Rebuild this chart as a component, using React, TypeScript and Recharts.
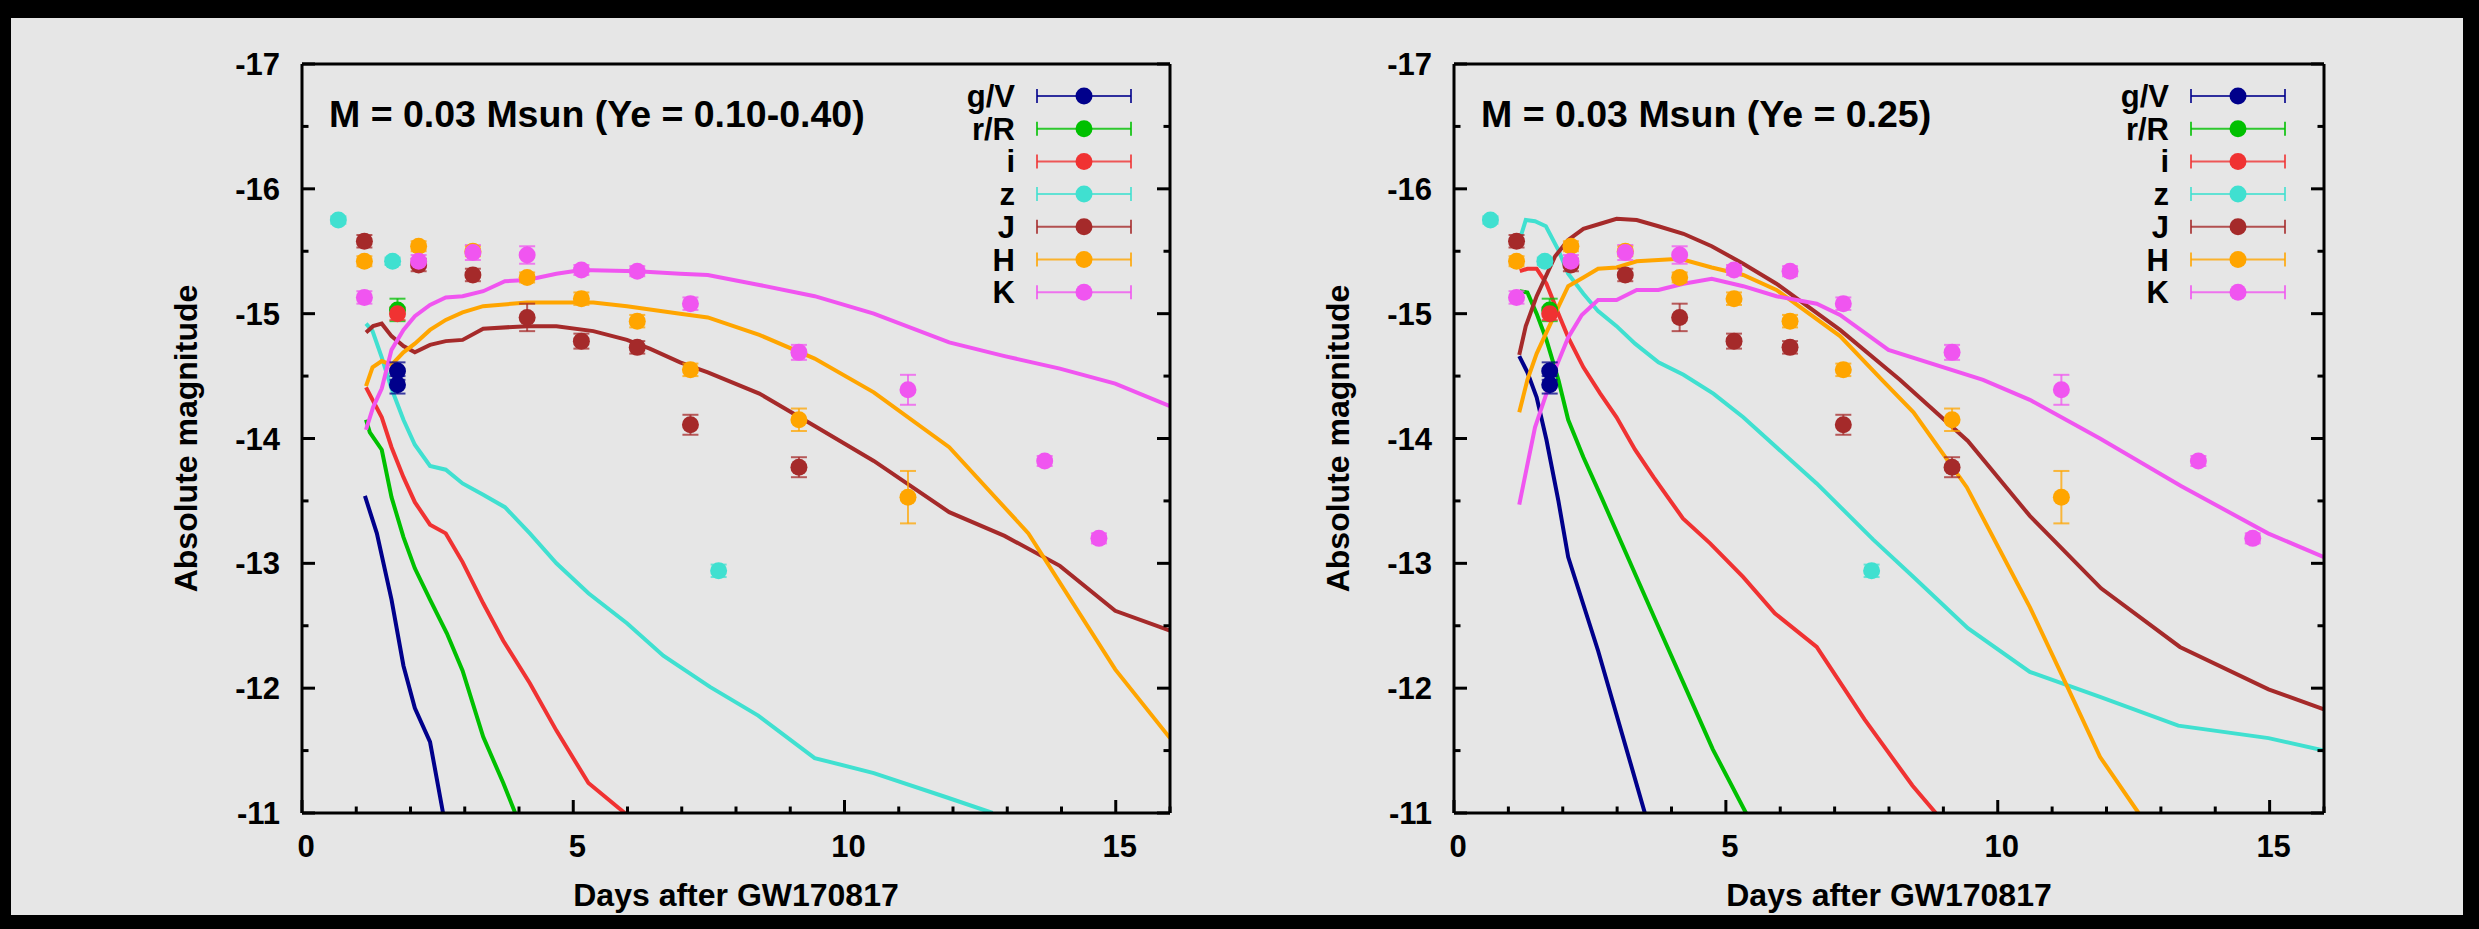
import React from 'react'
import { ComposedChart, Line, Scatter, ErrorBar, XAxis, YAxis, Legend, Label } from 'recharts'

type Pt = [number, number]
type Obs = [number, number, number]

const BANDS = ['g/V', 'r/R', 'i', 'z', 'J', 'H', 'K']
const COLORS = ['#00008b', '#00c000', '#f03232', '#40e0d0', '#a52a2a', '#ffa500', '#f055f0']

const X_TICKS = [0, 1, 2, 3, 4, 5, 6, 7, 8, 9, 10, 11, 12, 13, 14, 15, 16]
const Y_TICKS = [-17, -16.5, -16, -15.5, -15, -14.5, -14, -13.5, -13, -12.5, -12, -11.5, -11]

const TITLE_MIX = 'M = 0.03 Msun (Ye = 0.10-0.40)'
const TITLE_025 = 'M = 0.03 Msun (Ye = 0.25)'

// observed points: [day, mag, error]
const OBS_G: Obs[] = [[1.76, -14.54, 0.07], [1.76, -14.43, 0.07]]
const OBS_R: Obs[] = [[1.76, -15.03, 0.09]]
const OBS_I: Obs[] = [[1.76, -15.0, 0.05]]
const OBS_Z: Obs[] = [[0.67, -15.75, 0.03], [1.67, -15.42, 0.03], [7.68, -12.94, 0.05]]
const OBS_J: Obs[] = [
  [1.15, -15.58, 0.05], [2.15, -15.39, 0.05], [3.15, -15.31, 0.05], [4.15, -14.97, 0.11],
  [5.15, -14.78, 0.06], [6.18, -14.73, 0.05], [7.16, -14.11, 0.08], [9.16, -13.77, 0.08],
]
const OBS_H: Obs[] = [
  [1.15, -15.42, 0.04], [2.15, -15.54, 0.04], [3.15, -15.5, 0.04], [4.15, -15.29, 0.04],
  [5.15, -15.12, 0.05], [6.18, -14.94, 0.05], [7.16, -14.55, 0.05], [9.16, -14.15, 0.09],
  [11.17, -13.53, 0.21],
]
const OBS_K: Obs[] = [
  [1.15, -15.13, 0.05], [2.15, -15.42, 0.05], [3.15, -15.49, 0.06], [4.15, -15.47, 0.07],
  [5.15, -15.35, 0.04], [6.18, -15.34, 0.04], [7.16, -15.08, 0.05], [9.16, -14.69, 0.06],
  [11.17, -14.39, 0.12], [13.69, -13.82, 0.04], [14.69, -13.2, 0.04],
]
const OBS = [OBS_G, OBS_R, OBS_I, OBS_Z, OBS_J, OBS_H, OBS_K]

// model, Ye = 0.10-0.40
const MIX_G: Pt[] = [[1.16, -13.54], [1.38, -13.24], [1.65, -12.71], [1.87, -12.18], [2.08, -11.84], [2.36, -11.57], [2.6, -11.0]]
const MIX_R: Pt[] = [
  [1.18, -14.15], [1.25, -14.05], [1.47, -13.91], [1.65, -13.53], [1.87, -13.21], [2.08, -12.96],
  [2.36, -12.71], [2.67, -12.44], [2.96, -12.14], [3.34, -11.61], [3.71, -11.24], [3.93, -11.0],
]
const MIX_I: Pt[] = [
  [1.18, -14.41], [1.47, -14.17], [1.65, -13.93], [1.87, -13.69], [2.08, -13.49], [2.36, -13.31],
  [2.65, -13.24], [2.96, -13.01], [3.34, -12.68], [3.71, -12.38], [4.2, -12.04], [4.69, -11.66],
  [5.28, -11.24], [5.95, -11.0],
]
const MIX_Z: Pt[] = [
  [1.18, -14.92], [1.3, -14.86], [1.47, -14.65], [1.65, -14.4], [1.87, -14.15], [2.08, -13.95],
  [2.36, -13.78], [2.65, -13.75], [2.96, -13.64], [3.34, -13.55], [3.74, -13.45], [4.2, -13.24],
  [4.69, -13.0], [5.28, -12.76], [5.99, -12.52], [6.66, -12.26], [7.52, -12.01], [8.41, -11.78],
  [9.45, -11.44], [10.54, -11.32], [11.85, -11.13], [12.73, -11.0],
]
const MIX_J: Pt[] = [
  [1.18, -14.85], [1.31, -14.9], [1.47, -14.92], [1.65, -14.82], [1.87, -14.74], [2.08, -14.69],
  [2.36, -14.75], [2.65, -14.78], [2.96, -14.79], [3.34, -14.88], [4.15, -14.9], [4.69, -14.9],
  [5.37, -14.86], [5.99, -14.79], [6.41, -14.72], [6.97, -14.61], [7.48, -14.53], [8.43, -14.36],
  [9.45, -14.1], [10.54, -13.82], [11.93, -13.41], [12.95, -13.22], [13.97, -12.98], [14.99, -12.62],
  [16, -12.46],
]
const MIX_H: Pt[] = [
  [1.18, -14.42], [1.3, -14.57], [1.47, -14.62], [1.65, -14.59], [1.87, -14.69], [2.08, -14.76],
  [2.36, -14.87], [2.65, -14.95], [2.96, -15.01], [3.34, -15.06], [4.15, -15.09], [4.69, -15.09],
  [5.37, -15.09], [5.99, -15.06], [6.97, -15.0], [7.48, -14.97], [8.43, -14.83], [9.45, -14.64],
  [10.54, -14.37], [11.93, -13.93], [13.39, -13.24], [14.99, -12.15], [16, -11.6],
]
const MIX_K: Pt[] = [
  [1.18, -14.07], [1.31, -14.25], [1.47, -14.4], [1.65, -14.71], [1.87, -14.87], [2.08, -14.98],
  [2.36, -15.07], [2.65, -15.13], [2.96, -15.14], [3.34, -15.18], [3.74, -15.26], [4.15, -15.27],
  [4.69, -15.32], [5.15, -15.35], [6.18, -15.34], [6.97, -15.32], [7.48, -15.31], [8.43, -15.23],
  [9.45, -15.14], [10.54, -15.0], [11.93, -14.77], [12.95, -14.66], [13.97, -14.56], [14.99, -14.44],
  [16, -14.26],
]

// model, Ye = 0.25
const Y25_G: Pt[] = [[1.2, -14.66], [1.35, -14.53], [1.52, -14.33], [1.7, -13.99], [1.92, -13.5], [2.1, -13.05], [2.65, -12.3], [3.51, -11.0]]
const Y25_R: Pt[] = [
  [1.21, -15.18], [1.35, -15.17], [1.52, -15.0], [1.7, -14.79], [1.92, -14.47], [2.1, -14.15],
  [2.38, -13.85], [2.72, -13.52], [3.7, -12.55], [4.21, -12.05], [4.76, -11.51], [5.37, -11.0],
]
const Y25_I: Pt[] = [
  [1.21, -15.34], [1.35, -15.36], [1.52, -15.36], [1.7, -15.24], [1.92, -15.0], [2.1, -14.81],
  [2.38, -14.57], [2.69, -14.36], [2.99, -14.17], [3.33, -13.91], [3.67, -13.69], [4.21, -13.36],
  [4.71, -13.16], [5.32, -12.89], [5.9, -12.6], [6.67, -12.33], [7.55, -11.75], [8.43, -11.22],
  [8.86, -11.0],
]
const Y25_Z: Pt[] = [
  [1.2, -15.58], [1.32, -15.75], [1.49, -15.74], [1.69, -15.7], [1.92, -15.51], [2.1, -15.32],
  [2.38, -15.16], [2.65, -15.02], [2.99, -14.9], [3.33, -14.76], [3.76, -14.61], [4.22, -14.51],
  [4.77, -14.36], [5.32, -14.17], [5.93, -13.93], [6.67, -13.64], [7.71, -13.19], [8.45, -12.89],
  [9.45, -12.48], [10.59, -12.13], [11.88, -11.93], [13.32, -11.7], [14.98, -11.6], [16, -11.5],
]
const Y25_J: Pt[] = [
  [1.2, -14.67], [1.32, -14.9], [1.52, -15.14], [1.86, -15.46], [2.1, -15.59], [2.38, -15.68],
  [2.69, -15.72], [2.99, -15.76], [3.36, -15.75], [3.76, -15.7], [4.22, -15.64], [4.74, -15.54],
  [5.32, -15.4], [5.93, -15.24], [7.1, -14.87], [8.2, -14.47], [9.45, -13.98], [10.59, -13.38],
  [11.9, -12.8], [13.35, -12.33], [14.98, -11.99], [16, -11.83],
]
const Y25_H: Pt[] = [
  [1.2, -14.21], [1.35, -14.47], [1.52, -14.68], [1.86, -15.0], [2.1, -15.22], [2.38, -15.29],
  [2.65, -15.36], [2.99, -15.37], [3.36, -15.42], [3.76, -15.43], [4.16, -15.44], [4.74, -15.37],
  [5.32, -15.31], [5.93, -15.19], [7.1, -14.82], [7.87, -14.47], [8.45, -14.21], [9.43, -13.61],
  [10.59, -12.65], [11.27, -12.02], [11.88, -11.45], [12.59, -11.0],
]
const Y25_K: Pt[] = [
  [1.2, -13.47], [1.49, -14.09], [1.8, -14.49], [2.1, -14.81], [2.35, -14.99], [2.65, -15.11],
  [2.99, -15.11], [3.36, -15.19], [3.76, -15.19], [4.22, -15.24], [4.74, -15.28], [5.32, -15.22],
  [5.93, -15.14], [6.67, -15.08], [7.1, -14.99], [7.99, -14.71], [9.73, -14.47], [10.59, -14.31],
  [11.88, -14.0], [13.37, -13.62], [14.97, -13.24], [16, -13.05],
]

const MODELS_MIX = [MIX_G, MIX_R, MIX_I, MIX_Z, MIX_J, MIX_H, MIX_K]
const MODELS_025 = [Y25_G, Y25_R, Y25_I, Y25_Z, Y25_J, Y25_H, Y25_K]

const FONT = '"Liberation Sans", Arial, Helvetica, sans-serif'
const INK = '#000'
const CW = 1240
const CH = 929
const PLOT_L = 302
const PLOT_T = 64
const PLOT_H = 749

const toLine = (pts: Pt[]) => pts.map(([x, y]) => ({ x, y }))
const toObs = (pts: Obs[]) => pts.map(([x, y, err]) => ({ x, y, err }))

function BottomTick(p: any) {
  const v = p.payload.value
  const major = v % 5 === 0
  return (
    <g>
      <line x1={p.x} x2={p.x} y1={p.y} y2={p.y - (major ? 13 : 6.5)} stroke={INK} strokeWidth={3} />
      {major && (
        <text x={p.x + 4} y={p.y + 44} textAnchor="middle" fontFamily={FONT} fontWeight="bold" fontSize={31} fill={INK}>{v}</text>
      )}
    </g>
  )
}

function TopTick(p: any) {
  const major = p.payload.value % 5 === 0
  return <line x1={p.x} x2={p.x} y1={p.y} y2={p.y + (major ? 13 : 6.5)} stroke={INK} strokeWidth={3} />
}

function LeftTick(p: any) {
  const v = p.payload.value
  const major = Number.isInteger(v)
  return (
    <g>
      <line x1={p.x} x2={p.x + (major ? 13 : 6.5)} y1={p.y} y2={p.y} stroke={INK} strokeWidth={3} />
      {major && (
        <text x={p.x - 22} y={p.y + 11} textAnchor="end" fontFamily={FONT} fontWeight="bold" fontSize={31} fill={INK}>{v}</text>
      )}
    </g>
  )
}

function RightTick(p: any) {
  const major = Number.isInteger(p.payload.value)
  return <line x1={p.x} x2={p.x - (major ? 13 : 6.5)} y1={p.y} y2={p.y} stroke={INK} strokeWidth={3} />
}

function LegendBox({ plotW, title }: { plotW: number; title: string }) {
  return (
    <svg width={plotW} height={280} style={{ display: 'block', overflow: 'visible' }}>
      <text x={27} y={63} fontFamily={FONT} fontWeight="bold" fontSize={37.5} fill={INK}>{title}</text>
      {BANDS.map((b, i) => {
        const cy = 32 + i * 32.7
        const c = COLORS[i]
        return (
          <g key={b}>
            <text x={plotW - 155} y={cy + 11} textAnchor="end" fontFamily={FONT} fontWeight="bold" fontSize={31} fill={INK}>{b}</text>
            <g stroke={c} strokeWidth={2} strokeOpacity={0.8}>
              <line x1={plotW - 133} x2={plotW - 39} y1={cy} y2={cy} />
              <line x1={plotW - 133} x2={plotW - 133} y1={cy - 7} y2={cy + 7} />
              <line x1={plotW - 39} x2={plotW - 39} y1={cy - 7} y2={cy + 7} />
            </g>
            <circle cx={plotW - 86} cy={cy} r={8.5} fill={c} />
          </g>
        )
      })}
    </svg>
  )
}

function Panel({ left, plotW, title, models }: { left: number; plotW: number; title: string; models: Pt[][] }) {
  const axisLine = { stroke: INK, strokeWidth: 3 }
  // every axis is 1px thick, so the margins are 1px short of the plot box
  return (
    <div style={{ position: 'absolute', left, top: 0 }}>
      <ComposedChart
        width={CW}
        height={CH}
        margin={{ top: PLOT_T - 1, left: PLOT_L - 1, right: CW - PLOT_L - plotW - 1, bottom: CH - PLOT_T - PLOT_H - 1 }}
      >
        <XAxis xAxisId="b" type="number" dataKey="x" domain={[0, 16]} ticks={X_TICKS} interval={0}
          allowDataOverflow height={1} tickSize={0} tickMargin={0} tickLine={false} axisLine={axisLine}
          tick={(p: any) => <BottomTick {...p} />}>
          <Label content={(lp: any) => (
            <text x={lp.viewBox.x + lp.viewBox.width / 2} y={lp.viewBox.y + 93} textAnchor="middle"
              fontFamily={FONT} fontWeight="bold" fontSize={32} fill={INK}>Days after GW170817</text>
          )} />
        </XAxis>
        <XAxis xAxisId="t" orientation="top" type="number" domain={[0, 16]} ticks={X_TICKS} interval={0}
          allowDataOverflow height={1} tickSize={0} tickMargin={0} tickLine={false} axisLine={axisLine}
          tick={(p: any) => <TopTick {...p} />} />
        <YAxis yAxisId="l" type="number" dataKey="y" domain={[-17, -11]} reversed ticks={Y_TICKS} interval={0}
          allowDataOverflow width={1} tickSize={0} tickMargin={0} tickLine={false} axisLine={axisLine}
          tick={(p: any) => <LeftTick {...p} />}>
          <Label content={(lp: any) => {
            const cx = lp.viewBox.x + lp.viewBox.width - 105
            const cy = lp.viewBox.y + lp.viewBox.height / 2
            return (
              <text x={cx} y={cy} transform={`rotate(-90 ${cx} ${cy})`} textAnchor="middle"
                fontFamily={FONT} fontWeight="bold" fontSize={32} fill={INK}>Absolute magnitude</text>
            )
          }} />
        </YAxis>
        <YAxis yAxisId="r" orientation="right" type="number" domain={[-17, -11]} reversed ticks={Y_TICKS} interval={0}
          allowDataOverflow width={1} tickSize={0} tickMargin={0} tickLine={false} axisLine={axisLine}
          tick={(p: any) => <RightTick {...p} />} />

        {models.map((m, i) => (
          <Line key={'m' + BANDS[i]} xAxisId="b" yAxisId="l" data={toLine(m)} dataKey="y" type="linear"
            stroke={COLORS[i]} strokeWidth={4} dot={false} activeDot={false} isAnimationActive={false}
            legendType="none" />
        ))}
        {OBS.map((o, i) => (
          <Scatter key={'o' + BANDS[i]} xAxisId="b" yAxisId="l" data={toObs(o)} dataKey="y" fill={COLORS[i]}
            isAnimationActive={false} legendType="none"
            shape={(p: any) => <circle cx={p.cx} cy={p.cy} r={8.5} fill={COLORS[i]} />}>
            <ErrorBar dataKey="err" direction="y" width={8} stroke={COLORS[i]} strokeWidth={2} strokeOpacity={0.75} />
          </Scatter>
        ))}

        <Legend verticalAlign="middle" align="center" layout="horizontal"
          wrapperStyle={{ position: 'absolute', left: PLOT_L, top: PLOT_T, width: plotW, height: 280, pointerEvents: 'none' }}
          content={() => <LegendBox plotW={plotW} title={title} />} />
      </ComposedChart>
    </div>
  )
}

export default function App() {
  return (
    <div style={{ position: 'fixed', left: 0, top: 0, width: 2479, height: 929, background: '#000', overflow: 'hidden' }}>
      <div style={{ position: 'absolute', left: 11, top: 18, width: 2452, height: 897, background: '#e6e6e6' }} />
      <Panel left={0} plotW={868} title={TITLE_MIX} models={MODELS_MIX} />
      <Panel left={1152} plotW={870} title={TITLE_025} models={MODELS_025} />
    </div>
  )
}
